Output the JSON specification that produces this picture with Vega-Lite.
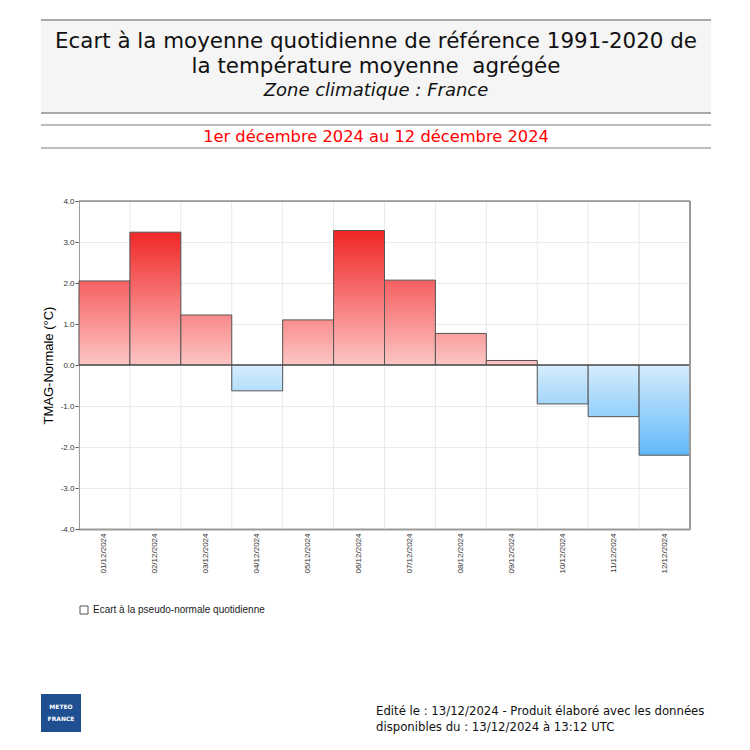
{
  "$schema": "https://vega.github.io/schema/vega-lite/v6.json",
  "padding": {"left": 40, "top": 19, "right": 0, "bottom": 0},
  "background": "white",
  "config": {"view": {"stroke": null}, "font": "DejaVu Sans"},
  "datasets": {
    "header": [
      {"row": "1", "text": "Ecart à la moyenne quotidienne de référence 1991-2020 de"},
      {"row": "2", "text": "la température moyenne \u00a0agrégée"},
      {"row": "3", "text": "Zone climatique : France"}
    ],
    "period": [{"text": "1er décembre 2024 au 12 décembre 2024"}],
    "ecarts": [
      {"date": "01/12/2024", "value": 2.05},
      {"date": "02/12/2024", "value": 3.24},
      {"date": "03/12/2024", "value": 1.22},
      {"date": "04/12/2024", "value": -0.63},
      {"date": "05/12/2024", "value": 1.10},
      {"date": "06/12/2024", "value": 3.28},
      {"date": "07/12/2024", "value": 2.07},
      {"date": "08/12/2024", "value": 0.77},
      {"date": "09/12/2024", "value": 0.11},
      {"date": "10/12/2024", "value": -0.95},
      {"date": "11/12/2024", "value": -1.26},
      {"date": "12/12/2024", "value": -2.20}
    ],
    "logo": [{"row": "1", "text": "METEO"}, {"row": "2", "text": "FRANCE"}],
    "footer": [
      {"row": "1", "text": "Edité le : 13/12/2024 - Produit élaboré avec les données"},
      {"row": "2", "text": "disponibles du : 13/12/2024 à 13:12 UTC"}
    ]
  },
  "columns": 1,
  "spacing": 46,
  "align": "none",
  "resolve": {"scale": {"stroke": "independent"}, "legend": {"stroke": "independent"}},
  "concat": [
    {
      "columns": 1,
      "spacing": 10,
      "align": "none",
      "concat": [
        {
          "width": 670,
          "height": 93,
          "view": {"fill": "#f5f5f5", "stroke": null},
          "data": {"name": "header"},
          "layer": [
            {
              "data": {"values": [{}]},
              "mark": {"type": "rule", "color": "#a9a9a9", "strokeWidth": 2},
              "encoding": {"y": {"datum": 1, "type": "quantitative", "scale": {"domain": [0, 1]}, "axis": null}}
            },
            {
              "data": {"values": [{}]},
              "mark": {"type": "rule", "color": "#a9a9a9", "strokeWidth": 2},
              "encoding": {"y": {"datum": 0, "type": "quantitative", "scale": {"domain": [0, 1]}, "axis": null}}
            },
            {
              "transform": [{"filter": "datum.row !== '3'"}],
              "mark": {"type": "text", "fontSize": 21.4, "font": "DejaVu Sans", "color": "#111111"},
              "encoding": {
                "y": {"field": "row", "type": "ordinal", "scale": {"type": "point", "domain": ["1", "2", "3"], "padding": 0.9}, "axis": null},
                "text": {"field": "text"}
              }
            },
            {
              "transform": [{"filter": "datum.row === '3'"}],
              "mark": {"type": "text", "fontSize": 18, "fontStyle": "italic", "font": "DejaVu Sans", "color": "#111111"},
              "encoding": {
                "y": {"field": "row", "type": "ordinal", "scale": {"type": "point", "domain": ["1", "2", "3"], "padding": 0.9}, "axis": null},
                "text": {"field": "text"}
              }
            }
          ],
          "resolve": {"scale": {"y": "independent"}}
        },
        {
          "width": 670,
          "height": 23,
          "data": {"name": "period"},
          "layer": [
            {
              "data": {"values": [{}]},
              "mark": {"type": "rule", "color": "#a9a9a9", "strokeWidth": 1.5},
              "encoding": {"y": {"datum": 1, "type": "quantitative", "scale": {"domain": [0, 1]}, "axis": null}}
            },
            {
              "data": {"values": [{}]},
              "mark": {"type": "rule", "color": "#a9a9a9", "strokeWidth": 1.5},
              "encoding": {"y": {"datum": 0, "type": "quantitative", "scale": {"domain": [0, 1]}, "axis": null}}
            },
            {
              "mark": {"type": "text", "fontSize": 16.3, "font": "DejaVu Sans", "color": "#ff0000"},
              "encoding": {"text": {"field": "text"}}
            }
          ]
        }
      ]
    },
    {
      "columns": 1,
      "spacing": 78,
      "align": "none",
      "resolve": {"scale": {"stroke": "independent"}, "legend": {"stroke": "independent"}},
      "concat": [
        {
          "spacing": 0,
          "resolve": {"scale": {"stroke": "independent"}, "legend": {"stroke": "independent"}},
          "hconcat": [
            {
              "width": 1,
              "height": 1,
              "data": {"values": [{}]},
              "mark": {"type": "text", "text": ""}
            },
            {
              "width": 611,
              "height": 328,
              "view": {"stroke": null},
              "data": {"name": "ecarts"},
              "layer": [
                {
                  "mark": {"type": "rule", "color": "#e9e9e9", "strokeWidth": 1},
                  "encoding": {"x": {"field": "date", "type": "nominal", "sort": null, "bandPosition": 0}}
                },
                {
                  "mark": {"type": "bar", "strokeWidth": 1},
                  "encoding": {
                    "x": {
                      "field": "date", "type": "nominal", "sort": null,
                      "scale": {"paddingInner": 0, "paddingOuter": 0},
                      "axis": {"title": null, "labelAngle": 270, "labelFont": "Liberation Sans", "labelFontSize": 8, "labelColor": "#333333", "ticks": false, "domain": true, "domainColor": "#9a9a9a", "domainWidth": 2, "grid": false, "labelPadding": 4}
                    },
                    "y": {
                      "field": "value", "type": "quantitative",
                      "scale": {"domain": [-4, 4], "nice": false},
                      "axis": {
                        "values": [-4, -3, -2, -1, 0, 1, 2, 3, 4],
                        "labelExpr": "replace(format(datum.value, '.1f'), '\u2212', '-')",
                        "title": "TMAG-Normale (°C)", "titleFont": "Liberation Sans", "titleFontSize": 13, "titleFontWeight": "normal", "titleColor": "#000000", "titlePadding": 5,
                        "labelFont": "Liberation Sans", "labelFontSize": 8, "labelColor": "#333333", "labelPadding": 1,
                        "tickSize": 4, "tickColor": "#555555", "domain": true, "domainColor": "#555555", "domainWidth": 1, "grid": true, "gridColor": "#ebebeb"
                      }
                    },
                    "fill": {
                      "condition": [
                        {"test": "datum.date === '01/12/2024'", "value": {"gradient": "linear", "x1": 0, "y1": 0, "x2": 0, "y2": 1, "stops": [{"offset": 0, "color": "#f56161"}, {"offset": 1, "color": "#fdc5c5"}]}},
                        {"test": "datum.date === '02/12/2024'", "value": {"gradient": "linear", "x1": 0, "y1": 0, "x2": 0, "y2": 1, "stops": [{"offset": 0, "color": "#f02727"}, {"offset": 1, "color": "#fdc5c5"}]}},
                        {"test": "datum.date === '03/12/2024'", "value": {"gradient": "linear", "x1": 0, "y1": 0, "x2": 0, "y2": 1, "stops": [{"offset": 0, "color": "#f88989"}, {"offset": 1, "color": "#fdc5c5"}]}},
                        {"test": "datum.date === '04/12/2024'", "value": {"gradient": "linear", "x1": 0, "y1": 0, "x2": 0, "y2": 1, "stops": [{"offset": 0, "color": "#d6edfd"}, {"offset": 1, "color": "#b4defc"}]}},
                        {"test": "datum.date === '05/12/2024'", "value": {"gradient": "linear", "x1": 0, "y1": 0, "x2": 0, "y2": 1, "stops": [{"offset": 0, "color": "#f98f8f"}, {"offset": 1, "color": "#fdc5c5"}]}},
                        {"test": "datum.date === '06/12/2024'", "value": {"gradient": "linear", "x1": 0, "y1": 0, "x2": 0, "y2": 1, "stops": [{"offset": 0, "color": "#f02525"}, {"offset": 1, "color": "#fdc5c5"}]}},
                        {"test": "datum.date === '07/12/2024'", "value": {"gradient": "linear", "x1": 0, "y1": 0, "x2": 0, "y2": 1, "stops": [{"offset": 0, "color": "#f56060"}, {"offset": 1, "color": "#fdc5c5"}]}},
                        {"test": "datum.date === '08/12/2024'", "value": {"gradient": "linear", "x1": 0, "y1": 0, "x2": 0, "y2": 1, "stops": [{"offset": 0, "color": "#fa9f9f"}, {"offset": 1, "color": "#fdc5c5"}]}},
                        {"test": "datum.date === '09/12/2024'", "value": {"gradient": "linear", "x1": 0, "y1": 0, "x2": 0, "y2": 1, "stops": [{"offset": 0, "color": "#fdc0c0"}, {"offset": 1, "color": "#fdc5c5"}]}},
                        {"test": "datum.date === '10/12/2024'", "value": {"gradient": "linear", "x1": 0, "y1": 0, "x2": 0, "y2": 1, "stops": [{"offset": 0, "color": "#d6edfd"}, {"offset": 1, "color": "#a3d6fb"}]}},
                        {"test": "datum.date === '11/12/2024'", "value": {"gradient": "linear", "x1": 0, "y1": 0, "x2": 0, "y2": 1, "stops": [{"offset": 0, "color": "#d6edfd"}, {"offset": 1, "color": "#92cffa"}]}},
                        {"test": "datum.date === '12/12/2024'", "value": {"gradient": "linear", "x1": 0, "y1": 0, "x2": 0, "y2": 1, "stops": [{"offset": 0, "color": "#d6edfd"}, {"offset": 1, "color": "#60b8f8"}]}}
                      ],
                      "value": "#ffffff"
                    },
                    "stroke": {
                      "datum": "Ecart à la pseudo-normale quotidienne",
                      "type": "nominal",
                      "scale": {"range": ["#555555"]},
                      "legend": {
                        "title": null, "orient": "bottom", "offset": 31, "labelLimit": 400,
                        "symbolType": "square", "symbolFillColor": "#ffffff", "symbolStrokeWidth": 1, "symbolSize": 64,
                        "labelFont": "Liberation Sans", "labelFontSize": 10, "labelColor": "#222222"
                      }
                    }
                  }
                },
                {
                  "data": {"values": [{}]},
                  "mark": {"type": "rule", "color": "#3c3c3c", "strokeWidth": 1},
                  "encoding": {"y": {"datum": 0, "type": "quantitative"}}
                },
                {
                  "data": {"values": [{}]},
                  "mark": {"type": "rule", "color": "#555555", "strokeWidth": 1},
                  "encoding": {"y": {"datum": 4, "type": "quantitative"}}
                },
                {
                  "transform": [{"filter": "datum.date === '12/12/2024'"}],
                  "mark": {"type": "rule", "color": "#9a9a9a", "strokeWidth": 2},
                  "encoding": {"x": {"field": "date", "type": "nominal", "sort": null, "bandPosition": 1}}
                }
              ]
            }
          ]
        },
        {
          "spacing": 295,
          "hconcat": [
            {
              "width": 40,
              "height": 38,
              "view": {"fill": "#1d4f91", "stroke": null},
              "data": {"name": "logo"},
              "mark": {"type": "text", "color": "#ffffff", "fontSize": 6, "fontWeight": "bold", "font": "DejaVu Sans"},
              "encoding": {
                "y": {"field": "row", "type": "ordinal", "scale": {"type": "point", "padding": 3.6}, "axis": null},
                "text": {"field": "text"}
              }
            },
            {
              "width": 335,
              "height": 50,
              "data": {"name": "footer"},
              "mark": {"type": "text", "align": "left", "fontSize": 11.7, "font": "DejaVu Sans", "color": "#111111"},
              "encoding": {
                "x": {"datum": 0, "type": "quantitative", "scale": {"domain": [0, 1]}, "axis": null},
                "y": {"field": "row", "type": "ordinal", "scale": {"type": "point", "padding": 1.4}, "axis": null},
                "text": {"field": "text"}
              }
            }
          ]
        }
      ]
    }
  ]
}
